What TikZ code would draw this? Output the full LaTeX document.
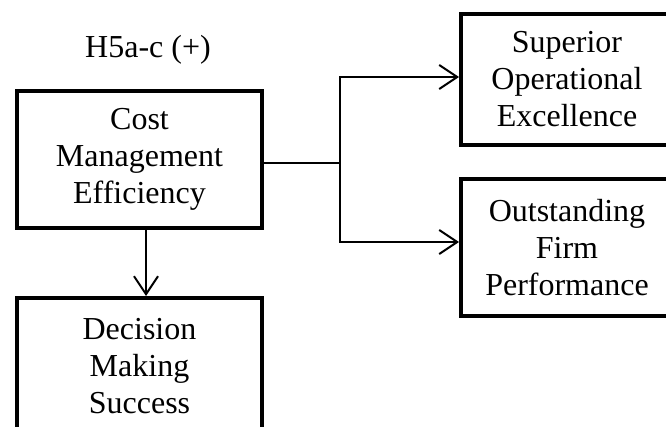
\documentclass[tikz,border=0pt]{standalone}
\usepackage{fontspec}
\setmainfont{Liberation Serif}
\usetikzlibrary{arrows.meta}
\begin{document}
\begin{tikzpicture}[x=1pt,y=-1pt,
  box/.style={draw,line width=4pt,inner sep=0pt,align=center,
    font=\fontsize{32}{37}\selectfont},
  link/.style={line width=2pt},
  arr/.style={link,-{Straight Barb[length=18pt,width=24pt]}}]
\useasboundingbox (0,0) rectangle (666,427);
\fill[white] (0,0) rectangle (666,427);
\clip (0,0) rectangle (666,427);

% hypothesis label
\node[font=\fontsize{32}{37}\selectfont] (hyp) at (148,50) {H5a-c (+)};

% constructs
\node[box,minimum width=245pt,minimum height=137pt] (cost) at (139.5,159.5)
  {Cost\\Management\\Efficiency};
\node[box,minimum width=245pt,minimum height=137pt] (dec) at (139.5,366.5)
  {Decision\\Making\\Success};
\node[box,minimum width=212pt,minimum height=131pt] (sup) at (567,79.5)
  {Superior\\Operational\\Excellence};
\node[box,minimum width=212pt,minimum height=137pt] (out) at (567,247.5)
  {Outstanding\\Firm\\Performance};

% connectors
\coordinate (j) at (340,163);
\draw[arr] ([xshift=6.5pt]cost.south) -- ([xshift=6.5pt]dec.north);
\draw[link] ([yshift=-3.5pt]cost.east) -- (j);
\draw[arr] (j) |- ([yshift=2.5pt]sup.west);
\draw[arr] (j) |- ([yshift=5.5pt]out.west);
\end{tikzpicture}
\end{document}
